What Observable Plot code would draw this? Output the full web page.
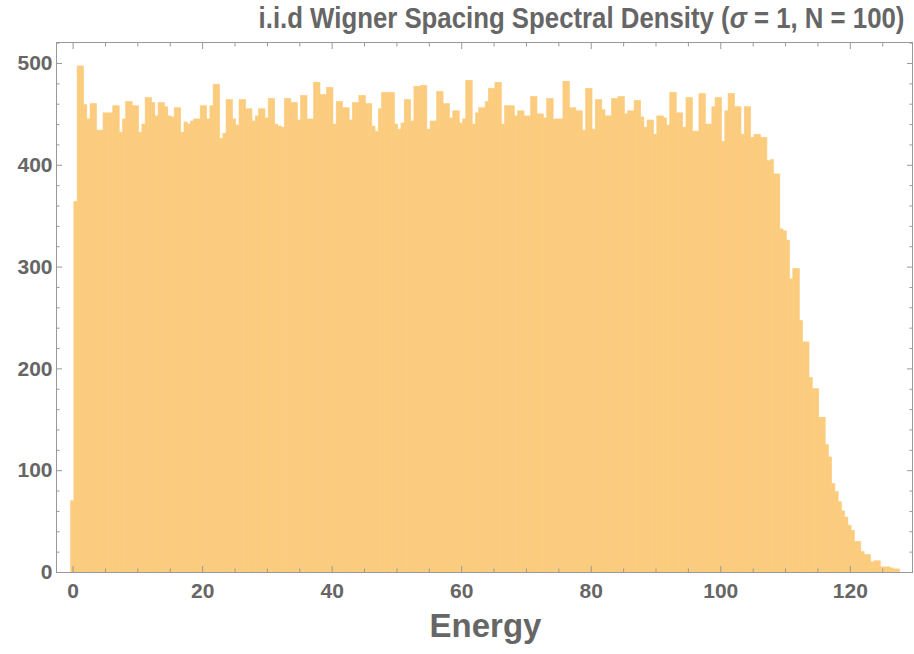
<!DOCTYPE html>
<html><head><meta charset="utf-8">
<script src="https://cdn.jsdelivr.net/npm/d3@7"></script>
<script src="https://cdn.jsdelivr.net/npm/@observablehq/plot@0.6"></script>
<style>
body{margin:0;background:#fff;}
#chart{width:914px;height:654px;}
</style></head><body><div id="chart"></div>
<script>
// Histogram counts, bins of width 0.5 starting at energy -0.3
const counts = [
70,364,497,497,459,445,460,460,434,434,
451,451,451,458,458,432,445,462,462,458,
458,432,440,466,466,461,448,461,461,457,
448,447,456,456,432,442,440,443,445,445,
458,458,445,458,479,479,426,431,464,464,
445,439,464,464,455,455,443,448,455,455,
446,465,465,440,438,437,465,465,461,461,
444,468,468,445,445,481,481,469,469,476,
476,440,462,462,456,456,444,461,461,468,
468,460,460,438,433,455,471,471,471,471,
440,435,441,464,464,443,477,477,478,478,
435,443,443,472,472,460,460,446,453,453,
441,445,483,483,440,451,456,456,462,475,
475,481,481,440,458,458,458,448,453,453,
448,448,467,467,450,450,446,465,465,445,
445,445,482,482,456,456,453,453,434,475,
475,435,464,464,454,448,448,465,465,467,
467,450,453,453,463,463,447,437,444,444,
430,448,448,446,439,471,471,451,451,437,
466,466,433,433,470,470,440,440,457,466,
466,423,453,470,470,457,457,430,457,457,
427,430,430,427,427,404,405,391,391,337,
335,326,288,298,298,247,226,226,191,180,
180,152,152,125,113,87,79,69,60,54,
46,41,30,30,20,17,17,10,11,11,
5,5,5,4,3,3
];
const binStart = -0.3;
const binWidth = 0.5;

const xMajor = [0, 20, 40, 60, 80, 100, 120];
const xMinor = [5, 10, 15, 25, 30, 35, 45, 50, 55, 65, 70, 75, 85, 90, 95, 105, 110, 115, 125];
const yMajor = [0, 100, 200, 300, 400, 500];
const yMinor = [20, 40, 60, 80, 120, 140, 160, 180, 220, 240, 260, 280, 320, 340, 360, 380, 420, 440, 460, 480, 520];
const xDomain = [-2.56, 129.6];
const yDomain = [0, 520.6];

const titleParts = ["i.i.d Wigner Spacing Spectral Density (", "\u03c3", " = 1, N = 100)"];
const xLabel = "Energy";

const bins = counts.map((c, i) => ({x1: binStart + i * binWidth, x2: binStart + (i + 1) * binWidth, count: c}));

const FONT = "'Liberation Sans', Arial, Helvetica, sans-serif";
const TXT = "#666666";
const AX = "#999999";
const BAR = "#fccc7e";
const W = 914, H = 654, ML = 56, MR = 2, MT = 42, MB = 82;

const plot = Plot.plot({
  width: W,
  height: H,
  marginTop: MT,
  marginBottom: MB,
  marginLeft: ML,
  marginRight: MR,
  x: {domain: xDomain},
  y: {domain: yDomain},
  style: {fontFamily: FONT, fontWeight: "bold", color: TXT, fontSize: "21px", background: "white"},
  marks: [
    Plot.rectY(bins, {x1: "x1", x2: "x2", y: "count", fill: BAR, stroke: BAR, strokeWidth: 0.6}),
    Plot.frame({stroke: AX, strokeWidth: 1}),
    // bottom ticks (inward)
    Plot.axisX({anchor: "bottom", ticks: xMajor, tickSize: 6, dy: -6, text: null, label: null, stroke: AX}),
    Plot.axisX({anchor: "bottom", ticks: xMinor, tickSize: 3.5, dy: -3.5, text: null, label: null, stroke: AX}),
    // top ticks
    Plot.axisX({anchor: "top", ticks: xMajor, tickSize: 6, dy: 6, text: null, label: null, stroke: AX}),
    Plot.axisX({anchor: "top", ticks: xMinor, tickSize: 3.5, dy: 3.5, text: null, label: null, stroke: AX}),
    // left ticks
    Plot.axisY({anchor: "left", ticks: yMajor, tickSize: 6, dx: 6, text: null, label: null, stroke: AX}),
    Plot.axisY({anchor: "left", ticks: yMinor, tickSize: 3.5, dx: 3.5, text: null, label: null, stroke: AX}),
    // right ticks
    Plot.axisY({anchor: "right", ticks: yMajor, tickSize: 6, dx: -6, text: null, label: null, stroke: AX}),
    Plot.axisY({anchor: "right", ticks: yMinor, tickSize: 3.5, dx: -3.5, text: null, label: null, stroke: AX}),
    // labels
    Plot.axisX({anchor: "bottom", ticks: xMajor, tickSize: 0, tickPadding: 11, label: null, tickFormat: d => String(d), fill: TXT, fontSize: 21}),
    Plot.axisY({anchor: "left", ticks: yMajor, tickSize: 0, tickPadding: 4, label: null, tickFormat: d => String(d), fill: TXT, fontSize: 21}),
    Plot.text([xLabel], {frameAnchor: "bottom", dx: 1, dy: 64.4, text: d => d, fontSize: 33, fontWeight: "bold", fill: TXT})
  ]
});
document.getElementById("chart").appendChild(plot);

// Title: italic sigma, condensed to the reference's width
const titleCx = ML + (W - ML - MR) / 2 + 97.5;
const titleG = d3.select(plot).append("g").attr("transform", `translate(${titleCx},${MT - 23.6})`);
const titleT = titleG.append("text")
  .attr("text-anchor", "middle").attr("dy", "0.32em")
  .attr("font-family", FONT).attr("font-weight", "bold").attr("font-size", 30).attr("fill", TXT);
titleT.append("tspan").text(titleParts[0]);
titleT.append("tspan").attr("font-style", "italic").text(titleParts[1]);
titleT.append("tspan").text(titleParts[2]);
const natural = titleT.node().getComputedTextLength();
titleG.attr("transform", `translate(${titleCx},${MT - 23.6}) scale(${646 / natural},1)`);
</script>
</body></html>
